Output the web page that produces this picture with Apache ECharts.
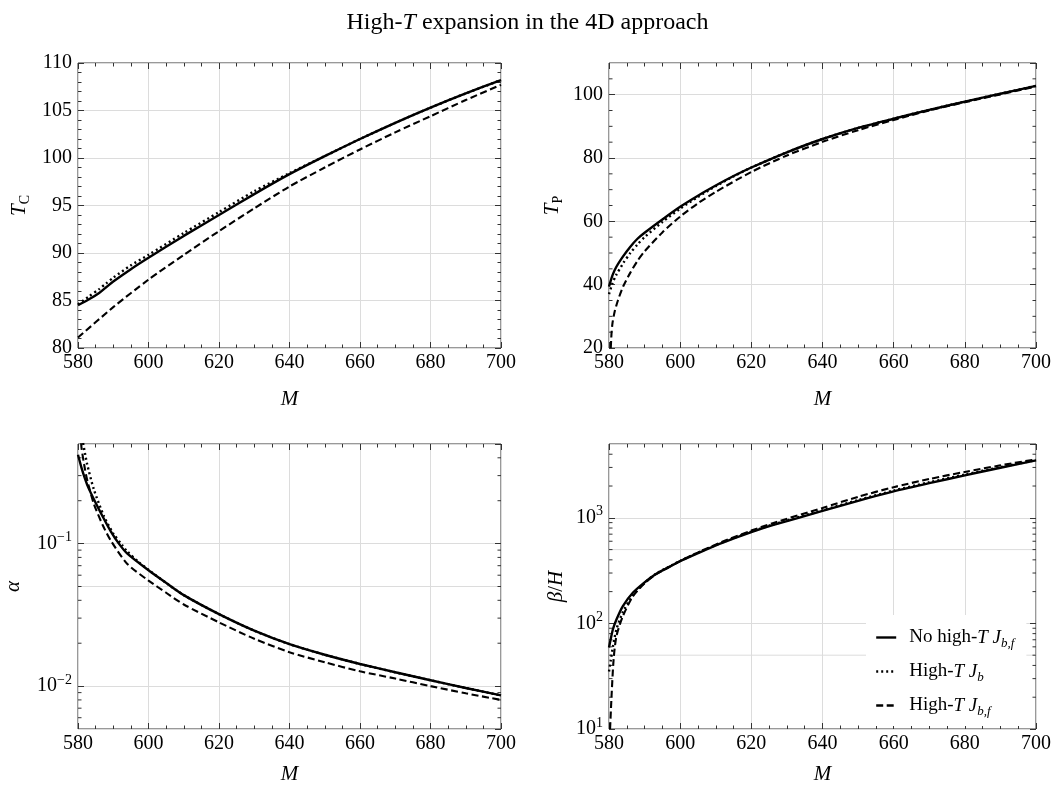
<!DOCTYPE html>
<html><head><meta charset="utf-8">
<script src="https://cdn.jsdelivr.net/npm/echarts@6/dist/echarts.min.js"></script>
<style>html,body{margin:0;padding:0;background:#fff}#c{width:1055px;height:789px}</style>
</head><body><div id="c"></div>
<script>
// ---------- data ----------
// Panel 1: T_C vs M
const tcSolidM  = [580,583,586,588,590,595,600,610,620,630,640,650,660,670,680,690,700];
const tcSolid   = [84.5,85.1,85.8,86.4,87.0,88.3,89.5,91.8,94.0,96.2,98.3,100.2,102.0,103.7,105.3,106.8,108.2];
const tcDotM    = [580,583,586,588,590,595,600,610,620,630,640,650,660,670,680,690,700];
const tcDot     = [84.6,85.4,86.2,86.8,87.4,88.7,89.8,92.1,94.3,96.5,98.4,100.2,102.0,103.7,105.3,106.8,108.2];
const tcDashM   = [580,590,600,610,620,630,640,650,660,670,680,690,700];
const tcDash    = [81.1,84.3,87.2,89.8,92.3,94.7,97.0,99.0,100.9,102.7,104.4,106.1,107.7];
// Panel 2: T_P vs M
const tpSolidM  = [580,581,582,584,586,588,590,595,600,605,610,615,620,630,640,650,660,670,680,690,700];
const tpSolid   = [39.4,43,45.5,49,52,54.5,56.4,60.6,64.6,68.1,71.3,74.3,77.0,81.8,86.0,89.5,92.4,95.2,97.8,100.3,102.8];
const tpDotM    = [580,581,582,584,586,588,590,595,600,605,610,615,620,630,640,650,660,670,680,690,700];
const tpDot     = [37,40.5,43,46.8,50,52.7,55,59.8,64.0,67.7,71.1,74.2,77.0,81.8,86.0,89.5,92.4,95.2,97.8,100.3,102.8];
const tpDashM   = [580.5,580.7,581,581.6,582.5,584,586,588,590,595,600,605,610,620,630,640,650,660,670,680,690,700];
const tpDash    = [20,24.5,28,31.5,35,39.5,43.8,47.5,50.5,56.5,61.5,65.7,69.3,75.6,80.8,85.1,88.8,92.0,95.0,97.6,100.1,102.6];
// Panel 3: alpha vs M (log)
const alSolidM  = [580,581,582,583,584.5,587,589.3,591.6,594,600,605,610,620,630,640,650,660,670,680,690,700];
const alSolid   = [0.42,0.34,0.285,0.245,0.205,0.155,0.122,0.100,0.085,0.065,0.053,0.0435,0.032,0.0245,0.0197,0.0166,0.0143,0.0125,0.0110,0.0097,0.0086];
const alDotM    = [581.2,582.5,584.5,587.4,590,592.6,594,597,600,605,610,620,630,640,650,660,670,680,690,700];
const alDot     = [0.55,0.37,0.24,0.155,0.118,0.097,0.088,0.075,0.0655,0.053,0.0435,0.032,0.0245,0.0197,0.0166,0.0143,0.0125,0.0110,0.0097,0.0086];
const alDashM   = [580.7,581,582,582.6,584.5,587,589.3,594,600,605,610,620,630,640,650,660,670,680,690,700];
const alDash    = [0.6,0.47,0.33,0.28,0.19,0.135,0.105,0.072,0.055,0.0452,0.0374,0.028,0.0215,0.0173,0.0147,0.0127,0.0113,0.0100,0.0089,0.0080];
// Panel 4: beta/H vs M (log)
const bhSolidM  = [580,581.1,582.1,583.9,586.7,590,593.3,596.7,600.4,606,612,620,626,640,650,660,670,680,690,700];
const bhSolid   = [59,88,109,146,195,245,295,339,394,479,582,731,851,1161,1449,1778,2128,2523,2979,3500];
const bhDotM    = [580,580.5,581.1,582.1,583.9,586.7,590,593.3,596.7,600.4,606,612,620,626,640,650,660,670,680,690,700];
const bhDot     = [35,45,60,88,128,184,242,297,342,397,484,588,740,862,1178,1472,1810,2170,2570,3020,3520];
const bhDashM   = [580.3,580.7,581.3,582.1,583.9,586.7,590,593.3,596.7,600.4,606,612,620,626,640,650,660,670,680,690,700];
const bhDash    = [10,20,46,76,117,180,240,293,340,396,487,596,757,890,1240,1580,1950,2330,2720,3140,3580];

const legendNames = ['noHigh','highJb','highJbf'];
const legendLabels = {
  noHigh: '{gap|}No high-{i|T} {i|J}{sub|b,f}',
  highJb: '{gap|}High-{i|T} {i|J}{sub|b}',
  highJbf: '{gap|}High-{i|T} {i|J}{sub|b,f}'
};
const yNames = ['{i|T}{sub|C}', '{i|T}{sub|P}', '{i|α}', '{i|β}{n|/}{i|H}'];

// ---------- styling ----------
const FF = '"Liberation Serif", "DejaVu Serif", serif';
const GRID_COL = '#dcdcdc';
const AX_COL = '#333';
const richText = {
  n:   {fontFamily: FF, fontSize: 21, color: '#000', lineHeight: 26},
  i:   {fontFamily: FF, fontSize: 21, fontStyle: 'italic', color: '#000', lineHeight: 26},
  sub: {fontFamily: FF, fontSize: 14, color: '#000', lineHeight: 14, verticalAlign: 'bottom'},
  sup: {fontFamily: FF, fontSize: 14, color: '#000', lineHeight: 12, verticalAlign: 'top'},
  b:   {fontFamily: FF, fontSize: 20, color: '#000', lineHeight: 26}
};

const grids = [
  {left: 78, top: 63, width: 423, height: 285},
  {left: 609, top: 63, width: 427, height: 285},
  {left: 78, top: 444, width: 423, height: 285},
  {left: 609, top: 444, width: 427, height: 285}
];
const yCfg = [
  {type: 'value', min: 80, max: 110, interval: 5, minor: 5},
  {type: 'value', min: 20, max: 110, interval: 20, minor: 0},
  {type: 'log', min: 0.005, max: 0.5},
  {type: 'log', min: 10, max: 5000}
];
const yNameGap = [46, 44, 52, 40];
const xNameGap = [41, 41, 35, 35];

function logLabel(v) {
  const e = Math.round(Math.log10(v));
  return '{b|10}{sup|' + (e < 0 ? '\u2212' + (-e) : e) + '}';
}

const xAxis = [], yAxis = [];
for (let g = 0; g < 4; g++) {
  xAxis.push({
    type: 'value', gridIndex: g, min: 580, max: 700, interval: 20, position: 'bottom',
    name: 'M', nameLocation: 'middle', nameGap: xNameGap[g],
    nameTextStyle: {fontFamily: FF, fontSize: 21, fontStyle: 'italic', color: '#000'},
    axisLine: {show: false},
    axisTick: {show: true, inside: true, length: 6, lineStyle: {color: AX_COL}},
    minorTick: {show: true, splitNumber: 4, length: 3.5, lineStyle: {color: AX_COL}},
    axisLabel: {fontFamily: FF, fontSize: 20, color: '#000', margin: 5},
    splitLine: {show: true, lineStyle: {color: GRID_COL, width: 1}}
  });
}
for (let g = 0; g < 4; g++) {
  xAxis.push({
    type: 'value', gridIndex: g, min: 580, max: 700, interval: 20, position: 'top',
    axisLine: {show: false},
    axisTick: {show: true, inside: true, length: 6, lineStyle: {color: AX_COL}},
    minorTick: {show: true, splitNumber: 4, length: 3.5, lineStyle: {color: AX_COL}},
    axisLabel: {show: false}, splitLine: {show: false}
  });
}
for (let side = 0; side < 2; side++) {
  for (let g = 0; g < 4; g++) {
    const c = yCfg[g];
    const ax = {
      type: c.type, gridIndex: g, min: c.min, max: c.max,
      position: side === 0 ? 'left' : 'right',
      axisLine: {show: false},
      axisTick: {show: true, inside: true, length: 6, lineStyle: {color: AX_COL}},
      splitLine: {show: side === 0, lineStyle: {color: GRID_COL, width: 1}}
    };
    if (c.type === 'value') {
      ax.interval = c.interval;
      ax.minorTick = {show: c.minor > 0, splitNumber: c.minor || 5, length: 3.5, lineStyle: {color: AX_COL}};
    } else {
      ax.logBase = 10;
    }
    if (side === 0) {
      ax.name = yNames[g];
      ax.nameLocation = 'middle';
      ax.nameGap = yNameGap[g];
      ax.nameTextStyle = {fontFamily: FF, fontSize: 21, color: '#000', rich: richText};
      ax.axisLabel = {fontFamily: FF, fontSize: 20, color: '#000', margin: 6, rich: richText,
        showMaxLabel: g === 0,
        showMinLabel: g !== 2,
        formatter: c.type === 'log' ? logLabel : (v => (g === 1 && v > 100) ? '' : String(v))};
    } else {
      ax.axisLabel = {show: false};
    }
    yAxis.push(ax);
  }
}

// extra ticks / grid lines drawn through the axes' own scales
function decadeTicks(min, max) {
  const out = [];
  for (let e = Math.floor(Math.log10(min)); e <= Math.ceil(Math.log10(max)); e++) {
    for (let m = 2; m <= 9; m++) {
      const v = m * Math.pow(10, e);
      if (v > min * 1.0001 && v < max * 0.9999) out.push([580, v, m === 5 ? 1 : 0]);
    }
  }
  return out;
}
function linearMinor(min, max, step, major) {
  const out = [];
  for (let v = min + step; v < max; v += step) if (v % major !== 0) out.push([580, v, 0]);
  return out;
}
function tickRender(params, api) {
  const y = api.coord([api.value(0), api.value(1)])[1];
  const cs = params.coordSys;
  const kids = [];
  if (api.value(2) === 1) {
    kids.push({type: 'line', shape: {x1: cs.x, y1: y, x2: cs.x + cs.width, y2: y},
      style: {stroke: GRID_COL, lineWidth: 1}});
  }
  kids.push({type: 'line', shape: {x1: cs.x, y1: y, x2: cs.x + 3.5, y2: y}, style: {stroke: AX_COL, lineWidth: 1}});
  kids.push({type: 'line', shape: {x1: cs.x + cs.width - 3.5, y1: y, x2: cs.x + cs.width, y2: y}, style: {stroke: AX_COL, lineWidth: 1}});
  return {type: 'group', children: kids};
}

const zip = (xs, ys) => xs.map((x, k) => [x, ys[k]]);
const panels = [
  [tcSolidM, tcSolid, tcDotM, tcDot, tcDashM, tcDash],
  [tpSolidM, tpSolid, tpDotM, tpDot, tpDashM, tpDash],
  [alSolidM, alSolid, alDotM, alDot, alDashM, alDash],
  [bhSolidM, bhSolid, bhDotM, bhDot, bhDashM, bhDash]
];
const styles = [
  {name: 'noHigh', lineStyle: {color: '#000', width: 2.4, type: 'solid'}, z: 4},
  {name: 'highJb', lineStyle: {color: '#000', width: 2.4, type: [2, 3]}, z: 3},
  {name: 'highJbf', lineStyle: {color: '#000', width: 2.1, type: [7, 3.5]}, z: 2}
];
const series = [];
panels.forEach((p, g) => {
  styles.forEach((s, k) => {
    series.push({
      type: 'line', name: s.name, xAxisIndex: g, yAxisIndex: g,
      data: zip(p[2 * k], p[2 * k + 1]),
      showSymbol: false, symbol: 'none', smooth: 0.25,
      clip: true, z: s.z, lineStyle: s.lineStyle, itemStyle: {color: '#000'},
      emphasis: {disabled: true}, silent: true
    });
  });
});
[[1, linearMinor(20, 110, 5, 20)], [2, decadeTicks(0.005, 0.5)], [3, decadeTicks(10, 5000)]].forEach(([g, d]) => {
  series.push({type: 'custom', xAxisIndex: g, yAxisIndex: g, data: d, renderItem: tickRender, z: 1, silent: true});
});

const chart = echarts.init(document.getElementById('c'), null, {renderer: 'canvas'});
chart.setOption({
  animation: false,
  backgroundColor: '#fff',
  title: {
    text: 'High-{i|T} expansion in the 4D approach', left: 'center', top: 6,
    textStyle: {fontFamily: FF, fontSize: 24, fontWeight: 'normal', color: '#000',
      rich: {i: {fontFamily: FF, fontSize: 24, fontStyle: 'italic', color: '#000'}}}
  },
  grid: grids.map(gr => Object.assign({show: true, borderColor: AX_COL, borderWidth: 1, backgroundColor: 'transparent'}, gr)),
  xAxis, yAxis, series,
  legend: {
    show: true,
    data: legendNames, orient: 'vertical', left: 866, top: 615,
    backgroundColor: '#fff', padding: [13, 12, 8, 9], itemWidth: 20, itemHeight: 12, itemGap: 12,
    selectedMode: false,
    itemStyle: {opacity: 0},
    lineStyle: {width: 2.4},
    formatter: n => legendLabels[n],
    textStyle: {fontFamily: FF, fontSize: 19, color: '#000', rich: {
      gap: {width: 8, lineHeight: 25},
      n: {fontFamily: FF, fontSize: 19, color: '#000', lineHeight: 25},
      i: {fontFamily: FF, fontSize: 19, fontStyle: 'italic', color: '#000', lineHeight: 25},
      sub: {fontFamily: FF, fontSize: 13, fontStyle: 'italic', color: '#000', lineHeight: 13, verticalAlign: 'bottom'}
    }}
  }
});
</script></body></html>
